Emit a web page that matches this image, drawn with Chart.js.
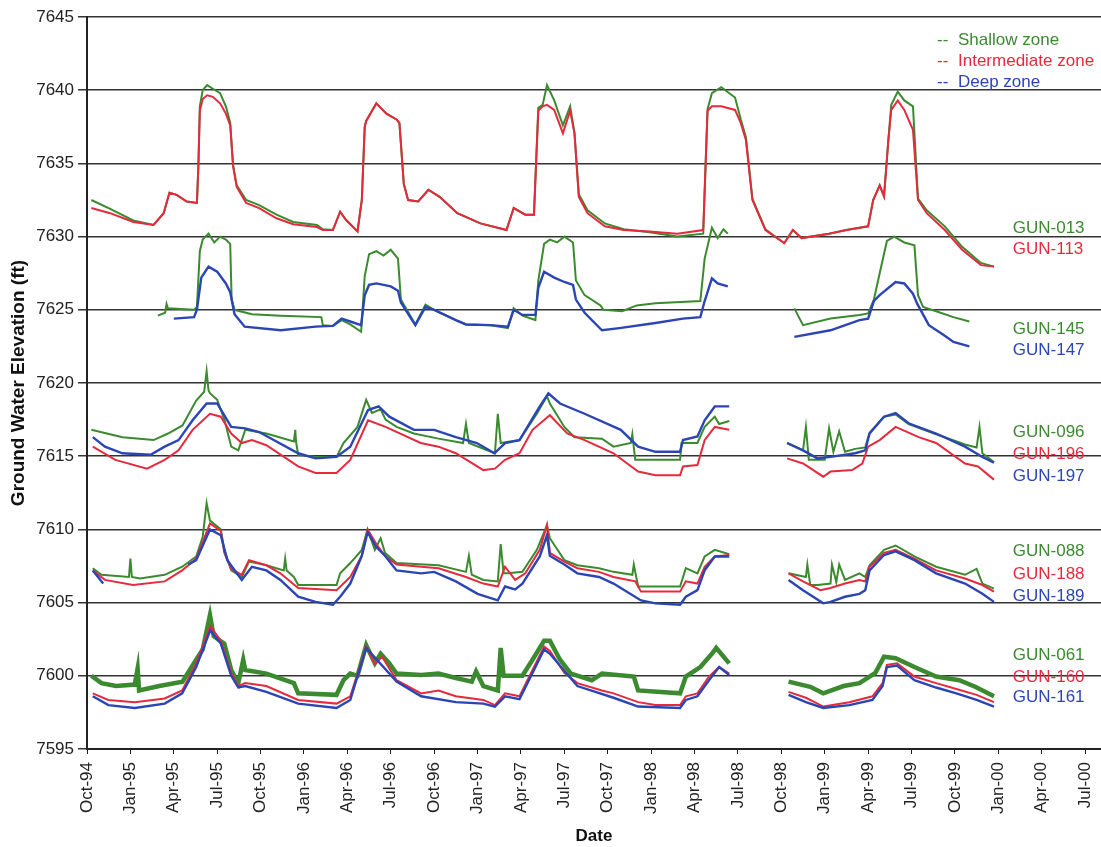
<!DOCTYPE html>
<html>
<head>
<meta charset="utf-8">
<script src="https://cdn.jsdelivr.net/npm/chart.js@4.4.1/dist/chart.umd.min.js"></script>
<style>
  html, body { margin: 0; padding: 0; background: #fff; }
  #wrap { width: 1101px; height: 847px; }
</style>
</head>
<body>
<div id="wrap"><canvas id="myChart" width="1101" height="847"></canvas></div>
<script>
// x values are months since 1 Oct 1994, y values are elevations in ft
const tickLabels = ['Oct-94','Jan-95','Apr-95','Jul-95','Oct-95','Jan-96','Apr-96','Jul-96','Oct-96','Jan-97','Apr-97','Jul-97',
  'Oct-97','Jan-98','Apr-98','Jul-98','Oct-98','Jan-99','Apr-99','Jul-99','Oct-99','Jan-00','Apr-00','Jul-00'];

const zoneNames = ['Shallow zone', 'Intermediate zone', 'Deep zone'];
const zoneColors = ['#3b8a2f', '#e52a3e', '#2b45b5'];

// well names, zone (0 shallow, 1 intermediate, 2 deep) and label level
const wellNames = ['GUN-013','GUN-113','GUN-145','GUN-147','GUN-096','GUN-196','GUN-197','GUN-088','GUN-188','GUN-189','GUN-061','GUN-160','GUN-161'];
const wellZones = [0,1,0,2,0,1,2,0,1,2,0,1,2];
const labelLevels = [7630.6,7629.1,7623.7,7622.2,7616.6,7615.1,7613.6,7608.5,7606.9,7605.4,7601.4,7599.9,7598.5];
const labelMonth = 64.0;

const gun013 = [[0.3,7632.5],[1.6,7631.9],[3.2,7631.1],[4.6,7630.8],[5.3,7631.6],[5.7,7633.0],[6.2,7632.85],[6.9,7632.4],[7.6,7632.3],[7.7,7634.8],[7.8,7638.9],[8.0,7640.0],[8.3,7640.35],[8.7,7640.1],[9.2,7639.8],[9.6,7638.9],[9.9,7637.8],[10.1,7634.9],[10.35,7633.5],[11.0,7632.5],[11.9,7632.15],[13.1,7631.5],[14.25,7631.0],[15.9,7630.8],[16.3,7630.5],[17.0,7630.45],[17.5,7631.7],[17.9,7631.15],[18.7,7630.35],[19.0,7632.5],[19.2,7637.5],[19.3,7637.9],[20.0,7639.1],[20.7,7638.4],[21.4,7638.0],[21.6,7637.75],[21.9,7633.6],[22.2,7632.5],[22.9,7632.4],[23.6,7633.2],[24.4,7632.7],[25.6,7631.6],[27.2,7630.9],[29.0,7630.45],[29.5,7631.95],[30.3,7631.5],[30.9,7631.5],[31.2,7638.8],[31.5,7639.0],[31.8,7640.35],[32.3,7639.3],[32.9,7637.6],[33.4,7638.9],[33.7,7637.1],[34.0,7632.9],[34.6,7631.8],[35.8,7630.9],[37.1,7630.5],[38.9,7630.3],[40.8,7630.0],[42.6,7630.2],[42.9,7638.7],[43.2,7639.8],[43.85,7640.2],[44.8,7639.5],[45.2,7638.0],[45.55,7636.8],[46.0,7632.6],[46.9,7630.5],[48.2,7629.55],[48.8,7630.45],[49.4,7629.9],[51.3,7630.2],[52.5,7630.45],[54.0,7630.7],[54.35,7632.5],[54.8,7633.5],[55.1,7632.75],[55.4,7636.6],[55.6,7639.0],[56.05,7639.9],[56.5,7639.3],[57.1,7638.9],[57.45,7632.6],[58.05,7631.8],[59.3,7630.7],[60.5,7629.3],[61.8,7628.2],[62.7,7627.95]];
const gun113 = [[0.3,7631.95],[1.6,7631.6],[3.2,7631.0],[4.6,7630.8],[5.3,7631.6],[5.7,7633.0],[6.2,7632.85],[6.9,7632.4],[7.6,7632.3],[7.7,7634.8],[7.8,7638.6],[8.0,7639.4],[8.3,7639.65],[8.7,7639.55],[9.2,7639.1],[9.6,7638.4],[9.9,7637.6],[10.1,7634.8],[10.35,7633.4],[11.0,7632.3],[11.9,7631.95],[13.1,7631.25],[14.25,7630.85],[15.9,7630.65],[16.3,7630.45],[17.0,7630.45],[17.5,7631.7],[17.9,7631.15],[18.7,7630.35],[19.0,7632.5],[19.2,7637.5],[19.3,7637.9],[20.0,7639.1],[20.7,7638.4],[21.4,7638.0],[21.6,7637.75],[21.9,7633.6],[22.2,7632.5],[22.9,7632.4],[23.6,7633.2],[24.4,7632.7],[25.6,7631.6],[27.2,7630.9],[29.0,7630.45],[29.5,7631.95],[30.3,7631.5],[30.9,7631.5],[31.2,7638.6],[31.5,7638.9],[31.8,7639.0],[32.3,7638.65],[32.9,7637.05],[33.4,7638.6],[33.7,7637.05],[34.0,7632.7],[34.6,7631.6],[35.8,7630.7],[37.1,7630.45],[38.9,7630.35],[40.8,7630.2],[42.6,7630.45],[42.9,7638.6],[43.2,7638.9],[43.85,7638.9],[44.8,7638.65],[45.2,7637.75],[45.55,7636.6],[46.0,7632.5],[46.9,7630.45],[48.2,7629.55],[48.8,7630.45],[49.4,7629.9],[51.3,7630.2],[52.5,7630.45],[54.0,7630.7],[54.35,7632.5],[54.8,7633.5],[55.1,7632.75],[55.4,7636.6],[55.6,7638.65],[56.05,7639.3],[56.5,7638.65],[57.1,7637.3],[57.45,7632.5],[58.05,7631.6],[59.3,7630.45],[60.5,7629.1],[61.8,7628.05],[62.7,7627.95]];

const gun145 = [[4.9,7624.6],[5.4,7624.8],[5.5,7625.4],[5.6,7625.1],[7.4,7625.0],[7.6,7625.2],[7.8,7629.0],[8.0,7629.8],[8.4,7630.2],[8.8,7629.6],[9.2,7630.0],[9.6,7629.8],[9.9,7629.5],[10.0,7625.7],[10.2,7625.0],[11.4,7624.7],[13.4,7624.6],[16.2,7624.5],[16.3,7623.95],[17.0,7623.9],[17.6,7624.3],[18.2,7624.0],[18.95,7623.5],[19.2,7627.3],[19.5,7628.8],[20.0,7629.0],[20.5,7628.7],[21.0,7629.1],[21.5,7628.5],[21.7,7625.7],[22.7,7624.0],[23.4,7625.35],[24.0,7625.0],[25.5,7624.3],[26.2,7624.0],[27.9,7623.95],[29.1,7623.75],[29.5,7625.1],[30.1,7624.6],[31.0,7624.3],[31.2,7627.0],[31.6,7629.5],[32.0,7629.8],[32.5,7629.6],[33.0,7630.0],[33.6,7629.6],[33.8,7627.0],[34.4,7626.0],[35.5,7625.3],[35.7,7625.0],[37.0,7624.9],[38.0,7625.3],[39.3,7625.45],[42.4,7625.6],[42.7,7628.5],[43.2,7630.6],[43.6,7629.9],[44.0,7630.5],[44.3,7630.2],[44.35,null],[48.9,7625.1],[49.5,7623.95],[51.4,7624.4],[53.4,7624.65],[54.0,7624.75],[54.4,7625.7],[54.8,7627.5],[55.3,7629.7],[55.8,7630.0],[56.5,7629.6],[57.2,7629.4],[57.45,7626.0],[57.8,7625.2],[58.7,7624.9],[59.9,7624.5],[61.0,7624.2]];
const gun147 = [[6.0,7624.4],[7.4,7624.5],[7.6,7625.0],[7.9,7627.2],[8.4,7627.95],[9.0,7627.6],[9.6,7626.8],[9.9,7626.2],[10.2,7624.7],[10.9,7623.85],[13.4,7623.6],[15.8,7623.85],[17.0,7623.9],[17.6,7624.4],[18.2,7624.2],[18.95,7623.95],[19.2,7626.0],[19.5,7626.7],[20.0,7626.8],[21.0,7626.6],[21.5,7626.3],[21.7,7625.5],[22.7,7623.95],[23.4,7625.2],[24.0,7625.0],[25.5,7624.3],[26.2,7624.0],[27.9,7623.95],[29.1,7623.85],[29.5,7625.0],[30.1,7624.65],[31.0,7624.65],[31.2,7626.5],[31.6,7627.6],[32.3,7627.2],[33.0,7626.9],[33.6,7626.7],[33.8,7625.7],[34.4,7624.8],[35.6,7623.6],[36.8,7623.75],[39.3,7624.1],[41.2,7624.4],[42.4,7624.5],[42.7,7625.6],[43.2,7627.15],[43.6,7626.8],[44.3,7626.6],[44.35,null],[48.9,7623.15],[51.4,7623.6],[53.4,7624.3],[54.0,7624.4],[54.4,7625.6],[54.8,7626.0],[55.9,7626.9],[56.5,7626.8],[57.1,7626.1],[57.4,7625.4],[58.2,7623.95],[59.2,7623.3],[59.9,7622.8],[61.0,7622.5]];

const gun096 = [[0.3,7616.8],[2.45,7616.3],[4.6,7616.1],[5.6,7616.55],[6.6,7617.1],[7.55,7618.8],[8.1,7619.4],[8.27,7620.8],[8.4,7619.5],[8.5,7619.3],[9.0,7618.85],[9.5,7617.5],[9.97,7615.65],[10.46,7615.4],[10.94,7616.8],[12.4,7616.55],[14.3,7616.0],[14.4,7616.8],[14.45,7616.0],[14.6,7615.1],[15.8,7614.95],[17.25,7614.95],[17.73,7615.9],[18.7,7617.0],[19.3,7618.85],[19.7,7617.95],[20.3,7618.2],[20.64,7617.5],[21.4,7617.0],[22.6,7616.55],[24.3,7616.2],[26.0,7615.9],[26.2,7617.2],[26.4,7615.9],[28.2,7615.2],[28.4,7617.9],[28.6,7615.9],[29.9,7616.1],[31.1,7617.9],[31.8,7619.1],[32.0,7618.6],[33.0,7617.0],[33.7,7616.3],[35.6,7616.2],[36.4,7615.65],[37.6,7615.9],[37.7,7616.5],[37.9,7614.75],[41.0,7614.75],[41.1,7615.9],[42.2,7615.9],[42.7,7617.0],[43.4,7617.7],[43.7,7617.2],[44.4,7617.4],[44.45,null],[48.4,7615.9],[49.5,7615.4],[49.7,7617.0],[49.9,7614.75],[51.0,7614.75],[51.3,7616.9],[51.6,7615.3],[52.0,7616.7],[52.4,7615.3],[53.1,7615.5],[53.8,7615.6],[54.1,7616.6],[55.1,7617.7],[55.9,7617.85],[56.8,7617.2],[58.7,7616.5],[60.7,7615.8],[61.5,7615.6],[61.7,7617.0],[61.9,7615.2],[62.7,7614.6]];
const gun196 = [[0.4,7615.65],[1.96,7614.75],[4.15,7614.15],[5.37,7614.75],[6.33,7615.4],[7.3,7616.8],[8.5,7617.9],[9.25,7617.7],[9.97,7616.55],[10.7,7615.9],[11.4,7616.1],[12.4,7615.75],[14.6,7614.3],[15.8,7613.85],[17.25,7613.85],[18.2,7614.75],[19.43,7617.45],[20.64,7617.0],[23.07,7615.9],[24.3,7615.65],[25.5,7615.2],[27.4,7614.05],[28.2,7614.15],[28.9,7614.75],[29.9,7615.2],[30.8,7616.8],[32.0,7617.8],[33.2,7616.55],[34.4,7616.1],[36.4,7615.2],[38.1,7613.95],[39.3,7613.7],[41.0,7613.7],[41.2,7614.3],[42.2,7614.4],[42.7,7616.1],[43.4,7617.0],[44.4,7616.8],[44.45,null],[48.4,7614.85],[49.5,7614.5],[50.9,7613.6],[51.4,7613.95],[52.9,7614.05],[53.6,7614.5],[54.0,7615.65],[54.8,7616.1],[55.9,7617.0],[57.5,7616.3],[58.7,7615.9],[60.7,7614.5],[61.6,7614.3],[62.7,7613.4]];
const gun197 = [[0.4,7616.3],[1.24,7615.65],[2.45,7615.2],[4.4,7615.1],[5.37,7615.65],[6.33,7616.1],[7.3,7617.45],[8.27,7618.6],[9.0,7618.6],[9.97,7617.0],[10.94,7616.9],[11.9,7616.65],[14.6,7615.2],[15.8,7614.85],[17.25,7614.95],[18.2,7615.65],[19.43,7618.15],[20.16,7618.4],[20.9,7617.7],[22.6,7616.8],[24.0,7616.8],[25.5,7616.3],[26.95,7615.9],[28.17,7615.2],[28.9,7615.9],[29.9,7616.1],[31.3,7618.4],[31.9,7619.3],[32.7,7618.6],[34.4,7617.9],[36.9,7616.8],[38.1,7615.65],[39.3,7615.3],[41.0,7615.3],[41.2,7616.1],[42.2,7616.35],[42.7,7617.45],[43.4,7618.4],[44.4,7618.4],[44.45,null],[48.4,7615.9],[49.5,7615.4],[50.5,7614.85],[51.4,7614.95],[53.1,7615.2],[53.8,7615.4],[54.1,7616.55],[55.1,7617.7],[55.9,7617.95],[56.8,7617.25],[58.7,7616.55],[60.7,7615.65],[61.9,7614.95],[62.7,7614.55]];

const gun088 = [[0.4,7607.35],[1.0,7606.9],[2.9,7606.75],[3.0,7608.0],[3.1,7606.75],[3.67,7606.65],[5.37,7606.9],[6.58,7607.45],[7.55,7608.15],[8.0,7609.5],[8.27,7611.8],[8.5,7610.6],[9.25,7610.0],[9.49,7608.6],[9.97,7607.2],[10.7,7606.75],[11.2,7607.8],[12.4,7607.55],[13.6,7607.2],[13.7,7608.0],[13.8,7607.2],[14.3,7606.75],[14.6,7606.2],[17.25,7606.2],[17.5,7607.0],[18.2,7607.7],[19.0,7608.6],[19.4,7610.0],[19.9,7608.6],[20.3,7609.4],[20.6,7608.4],[21.4,7607.7],[24.3,7607.55],[26.2,7607.1],[26.4,7608.2],[26.6,7606.9],[27.4,7606.55],[28.4,7606.45],[28.6,7609.0],[28.8,7607.0],[29.1,7607.0],[30.1,7607.1],[31.1,7608.6],[31.8,7610.3],[32.0,7609.4],[33.0,7607.9],[33.9,7607.55],[35.4,7607.35],[36.4,7607.1],[37.7,7606.9],[37.8,7607.6],[38.1,7606.1],[41.0,7606.1],[41.4,7607.35],[42.2,7607.0],[42.7,7608.15],[43.4,7608.6],[44.4,7608.3],[44.45,null],[48.5,7607.0],[49.7,7606.75],[49.8,7607.6],[50.0,7606.2],[50.5,7606.2],[51.4,7606.3],[51.5,7607.6],[51.8,7606.4],[52.0,7607.6],[52.4,7606.55],[53.4,7607.0],[53.8,7606.75],[54.1,7607.55],[55.1,7608.6],[55.9,7608.9],[57.2,7608.15],[58.7,7607.45],[60.7,7606.9],[61.5,7607.3],[61.9,7606.3],[62.7,7605.95]];
const gun188 = [[0.4,7607.2],[1.24,7606.55],[3.18,7606.2],[5.37,7606.45],[6.58,7607.2],[7.55,7608.0],[8.5,7610.4],[9.25,7609.9],[9.49,7608.4],[9.97,7607.3],[10.7,7606.9],[11.2,7607.9],[12.4,7607.55],[13.37,7607.0],[14.6,7606.0],[17.25,7605.85],[18.2,7606.75],[19.0,7608.2],[19.4,7610.0],[20.0,7609.0],[20.6,7608.2],[21.4,7607.6],[23.1,7607.45],[24.3,7607.35],[26.2,7606.75],[27.4,7606.3],[28.4,7606.1],[28.9,7607.45],[29.6,7606.55],[30.3,7607.0],[31.3,7608.6],[31.8,7610.3],[32.0,7608.4],[33.0,7607.8],[33.9,7607.35],[35.4,7607.1],[36.4,7606.75],[37.9,7606.45],[38.3,7605.75],[41.0,7605.75],[41.4,7606.45],[42.2,7606.3],[42.7,7607.45],[43.4,7608.15],[44.4,7608.25],[44.45,null],[48.5,7607.0],[49.5,7606.45],[50.7,7605.85],[51.4,7606.0],[52.4,7606.3],[53.4,7606.55],[53.8,7606.45],[54.1,7607.45],[55.1,7608.4],[55.9,7608.6],[57.2,7608.0],[58.7,7607.2],[60.7,7606.65],[61.9,7606.2],[62.7,7605.75]];
const gun189 = [[0.4,7607.2],[1.12,7606.3],[1.13,null],[7.0,7607.6],[7.55,7607.9],[8.5,7610.0],[9.25,7609.6],[9.7,7607.9],[10.7,7606.55],[11.4,7607.45],[12.4,7607.2],[13.37,7606.55],[14.6,7605.4],[15.8,7605.05],[17.0,7604.85],[17.5,7605.4],[18.2,7606.3],[19.0,7608.2],[19.4,7609.8],[20.0,7608.8],[20.6,7608.2],[21.4,7607.2],[23.1,7607.0],[24.0,7607.1],[25.5,7606.45],[27.0,7605.6],[28.4,7605.15],[28.9,7606.1],[29.6,7605.9],[30.1,7606.3],[31.3,7608.15],[31.8,7609.6],[32.0,7608.2],[33.0,7607.6],[33.9,7607.0],[35.4,7606.75],[36.4,7606.3],[38.3,7605.15],[39.3,7604.95],[41.0,7604.85],[41.4,7605.4],[42.2,7605.85],[42.7,7607.2],[43.4,7608.15],[44.4,7608.15],[44.45,null],[48.5,7606.55],[49.5,7605.85],[50.9,7604.95],[51.4,7605.05],[52.4,7605.4],[53.4,7605.6],[53.8,7605.85],[54.1,7607.2],[55.1,7608.25],[55.9,7608.5],[57.2,7607.9],[58.7,7607.0],[60.7,7606.3],[61.9,7605.6],[62.7,7605.05]];

const gun061 = [[0.3,7600.0],[1.0,7599.5],[2.0,7599.3],[3.3,7599.4],[3.5,7600.5],[3.6,7599.0],[5.0,7599.3],[6.6,7599.6],[7.55,7601.1],[8.0,7601.8],[8.5,7604.15],[8.76,7602.7],[9.49,7602.2],[9.97,7600.4],[10.46,7599.5],[10.8,7601.1],[10.94,7600.4],[12.4,7600.15],[14.3,7599.5],[14.6,7598.8],[17.25,7598.7],[17.73,7599.7],[18.2,7600.15],[18.7,7600.0],[19.3,7602.1],[19.9,7600.85],[20.3,7601.5],[20.9,7600.85],[21.4,7600.15],[23.1,7600.05],[24.3,7600.15],[25.5,7599.85],[26.6,7599.6],[26.9,7600.3],[27.4,7599.3],[28.4,7599.0],[28.6,7601.9],[28.8,7600.0],[30.1,7600.0],[30.8,7601.1],[31.6,7602.4],[32.0,7602.4],[32.7,7601.1],[33.45,7600.15],[34.9,7599.7],[35.6,7600.15],[37.8,7599.95],[38.1,7599.0],[41.0,7598.8],[41.4,7599.95],[42.4,7600.6],[43.2,7601.5],[43.5,7601.9],[44.4,7600.85],[44.45,null],[48.5,7599.6],[50.0,7599.25],[50.9,7598.8],[52.3,7599.3],[53.4,7599.5],[54.5,7600.2],[55.1,7601.3],[55.9,7601.2],[57.2,7600.6],[58.7,7599.95],[60.3,7599.7],[61.4,7599.25],[62.7,7598.6]];
const gun160 = [[0.4,7598.8],[1.48,7598.35],[3.3,7598.2],[5.37,7598.45],[6.58,7599.0],[7.55,7600.85],[8.52,7603.4],[9.25,7602.4],[9.97,7600.2],[10.46,7599.3],[10.94,7599.5],[12.4,7599.3],[14.6,7598.35],[17.25,7598.1],[18.2,7598.6],[19.3,7602.0],[19.9,7600.8],[20.4,7601.3],[21.4,7599.7],[23.1,7598.8],[24.3,7599.0],[25.5,7598.6],[27.4,7598.35],[28.2,7598.0],[28.9,7598.8],[29.9,7598.6],[30.8,7600.4],[31.6,7602.0],[32.0,7601.7],[33.0,7600.2],[33.9,7599.5],[35.6,7599.0],[36.4,7598.8],[38.1,7598.2],[39.3,7598.0],[41.0,7598.0],[41.4,7598.6],[42.2,7598.8],[43.0,7599.95],[43.7,7600.6],[44.4,7600.15],[44.45,null],[48.5,7598.9],[49.7,7598.5],[50.9,7597.9],[52.7,7598.2],[54.3,7598.6],[55.0,7599.5],[55.3,7600.75],[56.0,7600.85],[57.2,7599.95],[58.7,7599.5],[60.1,7599.1],[61.5,7598.7],[62.7,7598.2]];
const gun161 = [[0.4,7598.6],[1.48,7598.0],[3.3,7597.8],[5.37,7598.1],[6.58,7598.8],[7.55,7600.6],[8.52,7603.1],[9.25,7602.2],[9.97,7600.0],[10.46,7599.2],[10.94,7599.3],[12.4,7598.9],[14.6,7598.1],[17.25,7597.8],[18.2,7598.35],[19.3,7601.9],[21.4,7599.6],[23.1,7598.6],[25.5,7598.2],[27.4,7598.1],[28.2,7597.9],[28.9,7598.6],[29.9,7598.4],[30.8,7600.2],[31.6,7601.8],[32.0,7601.5],[33.9,7599.3],[36.4,7598.5],[38.1,7597.9],[41.0,7597.8],[41.4,7598.35],[42.2,7598.6],[43.0,7599.7],[43.7,7600.6],[44.4,7600.05],[44.45,null],[48.5,7598.7],[49.7,7598.2],[50.9,7597.8],[52.7,7598.0],[54.3,7598.35],[55.0,7599.3],[55.3,7600.6],[56.0,7600.7],[57.2,7599.7],[58.7,7599.2],[60.1,7598.8],[61.5,7598.35],[62.7,7597.9]];

const wellSeries = [gun013, gun113, gun145, gun147, gun096, gun196, gun197, gun088, gun188, gun189, gun061, gun160, gun161];

const FONT = "'Liberation Sans', Arial, sans-serif";

const datasets = wellSeries.map((pts, i) => {
  const zone = wellZones[i];
  return {
    label: wellNames[i],
    data: pts.map(p => ({ x: p[0], y: p[1] })),
    borderColor: zoneColors[zone],
    borderWidth: zone === 2 ? 2.4 : (i === 10 ? 4.5 : 2),
    pointRadius: 0,
    tension: 0,
    spanGaps: false,
    order: zone === 2 ? 0 : (zone === 1 ? 1 : 2)
  };
});

// labels on the right and the zone key in the top right corner
const annotations = {
  id: 'annotations',
  afterDatasetsDraw(chart) {
    const ctx = chart.ctx;
    const xs = chart.scales.x, ys = chart.scales.y;
    ctx.save();
    ctx.font = '17px ' + FONT;
    ctx.textBaseline = 'middle';
    ctx.textAlign = 'left';
    wellNames.forEach((name, i) => {
      ctx.fillStyle = zoneColors[wellZones[i]];
      ctx.fillText(name, xs.getPixelForValue(labelMonth), ys.getPixelForValue(labelLevels[i]));
    });
    const area = chart.chartArea;
    zoneNames.forEach((name, i) => {
      const y = area.top + 23 + i * 21;
      ctx.fillStyle = zoneColors[i];
      ctx.fillText('--', area.right - 164, y);
      ctx.fillText(name, area.right - 143, y);
    });
    ctx.restore();
  }
};

// keep the plot box fixed: no automatic label padding
const noPad = axis => { axis.paddingLeft = 0; axis.paddingRight = 0; axis.paddingTop = 0; axis.paddingBottom = 0; };

new Chart(document.getElementById('myChart'), {
  type: 'line',
  data: { datasets: datasets },
  plugins: [annotations],
  options: {
    responsive: false,
    animation: false,
    layout: { padding: { top: 17, right: 0, bottom: 0, left: 0 } },
    plugins: { legend: { display: false }, tooltip: { enabled: false } },
    scales: {
      x: {
        type: 'linear',
        min: 0,
        max: 70.1,
        afterBuildTicks: axis => { axis.ticks = tickLabels.map((t, i) => ({ value: i * 3 })); },
        afterFit: axis => { axis.height = 98; noPad(axis); },
        ticks: {
          autoSkip: false,
          minRotation: 90,
          maxRotation: 90,
          padding: 8,
          color: '#222',
          font: { family: FONT, size: 17 },
          callback: v => tickLabels[Math.round(v / 3)]
        },
        grid: { drawOnChartArea: false, drawTicks: true, tickLength: 5, color: '#222', lineWidth: 1 },
        border: { display: true, color: '#222', width: 2 },
        title: { display: true, text: 'Date', color: '#111', font: { family: FONT, size: 17, weight: 'bold' }, padding: 0 }
      },
      y: {
        min: 7595,
        max: 7645,
        afterFit: axis => { axis.width = 87; noPad(axis); },
        ticks: { stepSize: 5, color: '#222', padding: 4, font: { family: FONT, size: 17 }, callback: v => String(v) },
        grid: { color: '#333', lineWidth: 1.5, tickLength: 9 },
        border: { display: true, color: '#222', width: 2 },
        title: { display: true, text: 'Ground Water Elevation (ft)', color: '#111', font: { family: FONT, size: 19, weight: 'bold' }, padding: { top: 7, bottom: 0 } }
      }
    }
  }
});
</script>
</body>
</html>
